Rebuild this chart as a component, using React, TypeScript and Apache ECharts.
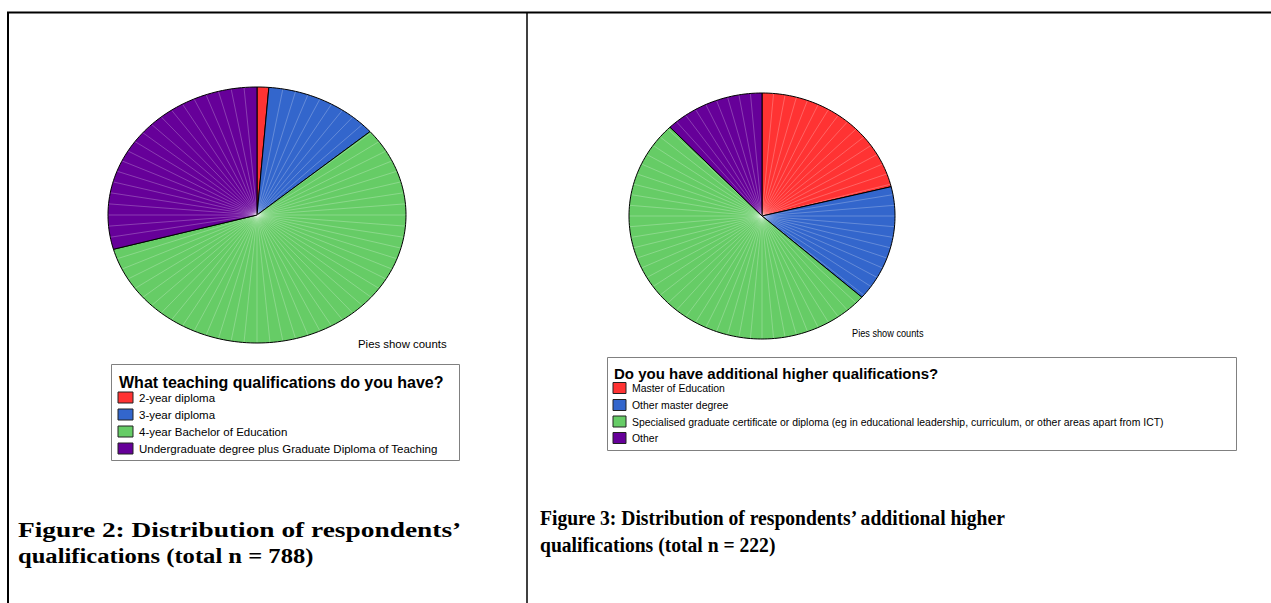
import React, { useEffect, useRef } from "react";
import * as echarts from "echarts";

// ---- data ----
const qualCategories = [
  "2-year diploma",
  "3-year diploma",
  "4-year Bachelor of Education",
  "Undergraduate degree plus Graduate Diploma of Teaching",
];
const qualCounts = [10, 98, 449, 231];

const higherCategories = [
  "Master of Education",
  "Other master degree",
  "Specialised graduate certificate or diploma (eg in educational leadership, curriculum, or other areas apart from ICT)",
  "Other",
];
const higherCounts = [47, 34, 114, 27];

const sliceColors = ["#ff3333", "#3366cc", "#66cc66", "#660099"];
const legendTitles = [
  "What teaching qualifications do you have?",
  "Do you have additional higher qualifications?",
];
const captionLines = [
  ["Figure 2: Distribution of respondents\u2019", "qualifications (total n = 788)"],
  ["Figure 3: Distribution of respondents\u2019 additional higher", "qualifications (total n = 222)"],
];
const footnote = "Pies show counts";

const SANS = "'Liberation Sans', Arial, Helvetica, sans-serif";
const SERIF = "'Liberation Serif', 'Times New Roman', serif";

function pieSeries(name: string, values: number[], cx: number, cy: number, rx: number, ry: number) {
  const total = values.reduce((a, b) => a + b, 0);
  return {
    type: "custom",
    name,
    coordinateSystem: "none",
    silent: true,
    data: values.map((v) => [v]),
    renderItem: (params: any, api: any) => {
      const i = params.dataIndex;
      let before = 0;
      for (let k = 0; k < i; k++) before += values[k];
      const a0 = (before / total) * Math.PI * 2;
      const a1 = ((before + api.value(0)) / total) * Math.PI * 2;
      const pts: number[][] = [[cx, cy]];
      const steps = Math.max(2, Math.ceil((a1 - a0) / (Math.PI / 120)));
      for (let s = 0; s <= steps; s++) {
        const a = a0 + ((a1 - a0) * s) / steps;
        pts.push([cx + rx * Math.sin(a), cy - ry * Math.cos(a)]);
      }
      const children: any[] = [
        {
          type: "polygon",
          shape: { points: pts },
          style: { fill: sliceColors[i], stroke: "none" },
        },
      ];
      const step = (5 * Math.PI) / 180;
      for (let a = Math.ceil(a0 / step) * step; a < a1; a += step) {
        if (a - a0 < 0.01 || a1 - a < 0.01) continue;
        children.push({
          type: "line",
          shape: { x1: cx, y1: cy, x2: cx + rx * Math.sin(a), y2: cy - ry * Math.cos(a) },
          style: { stroke: "rgba(255,255,255,0.3)", lineWidth: 0.8 },
        });
      }
      children.push({
        type: "polygon",
        shape: { points: pts },
        style: { fill: "none", stroke: "#000", lineWidth: 1 },
      });
      return { type: "group", children };
    },
  };
}

function legendBox(
  title: string,
  cats: string[],
  box: { x: number; y: number; w: number; h: number },
  titleX: number,
  titleY: number,
  titleSize: number,
  sqX: number,
  sqW: number,
  sqH: number,
  textX: number,
  rowsY: number[],
  itemSize: number,
  itemScaleX: number
) {
  const els: any[] = [
    {
      type: "rect",
      shape: { x: box.x, y: box.y, width: box.w, height: box.h },
      style: { fill: "#fff", stroke: "#808080", lineWidth: 1 },
    },
    {
      type: "text",
      x: titleX,
      y: titleY,
      style: {
        text: title,
        x: 0,
        y: 0,
        fill: "#000",
        font: `bold ${titleSize}px ${SANS}`,
        textVerticalAlign: "middle",
        verticalAlign: "middle",
      },
    },
  ];
  cats.forEach((c, i) => {
    els.push({
      type: "rect",
      shape: { x: sqX, y: rowsY[i] - sqH / 2, width: sqW, height: sqH },
      style: { fill: sliceColors[i], stroke: "#222", lineWidth: 1 },
    });
    els.push({
      type: "text",
      x: textX,
      y: rowsY[i],
      scaleX: itemScaleX,
      style: {
        text: c,
        x: 0,
        y: 0,
        fill: "#000",
        font: `${itemSize}px ${SANS}`,
        textVerticalAlign: "middle",
        verticalAlign: "middle",
      },
    });
  });
  return els;
}

function textEl(text: string, x: number, y: number, font: string, scaleX = 1) {
  return {
    type: "text",
    x,
    y,
    scaleX,
    style: { text, x: 0, y: 0, fill: "#000", font, textVerticalAlign: "middle", verticalAlign: "middle" },
  };
}

export default function App() {
  const ref = useRef<HTMLDivElement>(null);
  useEffect(() => {
    if (!ref.current) return;
    const chart = echarts.init(ref.current, undefined, { renderer: "svg" });
    const graphic: any[] = [
      { type: "line", shape: { x1: 7, y1: 12.5, x2: 1271, y2: 12.5 }, style: { stroke: "#000", lineWidth: 2 } },
      { type: "line", shape: { x1: 8, y1: 12, x2: 8, y2: 603 }, style: { stroke: "#000", lineWidth: 2 } },
      { type: "line", shape: { x1: 527, y1: 12, x2: 527, y2: 603 }, style: { stroke: "#000", lineWidth: 1.5 } },
      textEl(footnote, 358, 344, `11.4px ${SANS}`),
      textEl(footnote, 852, 333, `10px ${SANS}`, 0.92),
      ...legendBox(legendTitles[0], qualCategories, { x: 111.5, y: 364.5, w: 348, h: 96 }, 119, 382, 16, 118, 15, 11, 139, [397.5, 414.5, 431.5, 448.5], 11.5, 1),
      ...legendBox(legendTitles[1], higherCategories, { x: 607.5, y: 357.5, w: 629, h: 93 }, 614, 373, 15, 613, 13, 11, 632, [388, 405, 421.5, 438], 11, 0.95),
      textEl(captionLines[0][0], 18, 530, `bold 20px ${SERIF}`, 1.37),
      textEl(captionLines[0][1], 18, 556, `bold 20px ${SERIF}`, 1.23),
      textEl(captionLines[1][0], 540, 518, `bold 20px ${SERIF}`, 0.98),
      textEl(captionLines[1][1], 540, 545, `bold 20px ${SERIF}`, 0.98),
    ];
    chart.setOption({
      animation: false,
      backgroundColor: "#fff",
      series: [
        pieSeries("qualifications", qualCounts, 257, 215, 149, 128),
        pieSeries("higher", higherCounts, 762, 216, 133, 123),
      ],
      graphic,
    });
    return () => chart.dispose();
  }, []);
  return (
    <div
      ref={ref}
      style={{ position: "absolute", left: 0, top: 0, width: 1271, height: 603, background: "#fff" }}
    />
  );
}
